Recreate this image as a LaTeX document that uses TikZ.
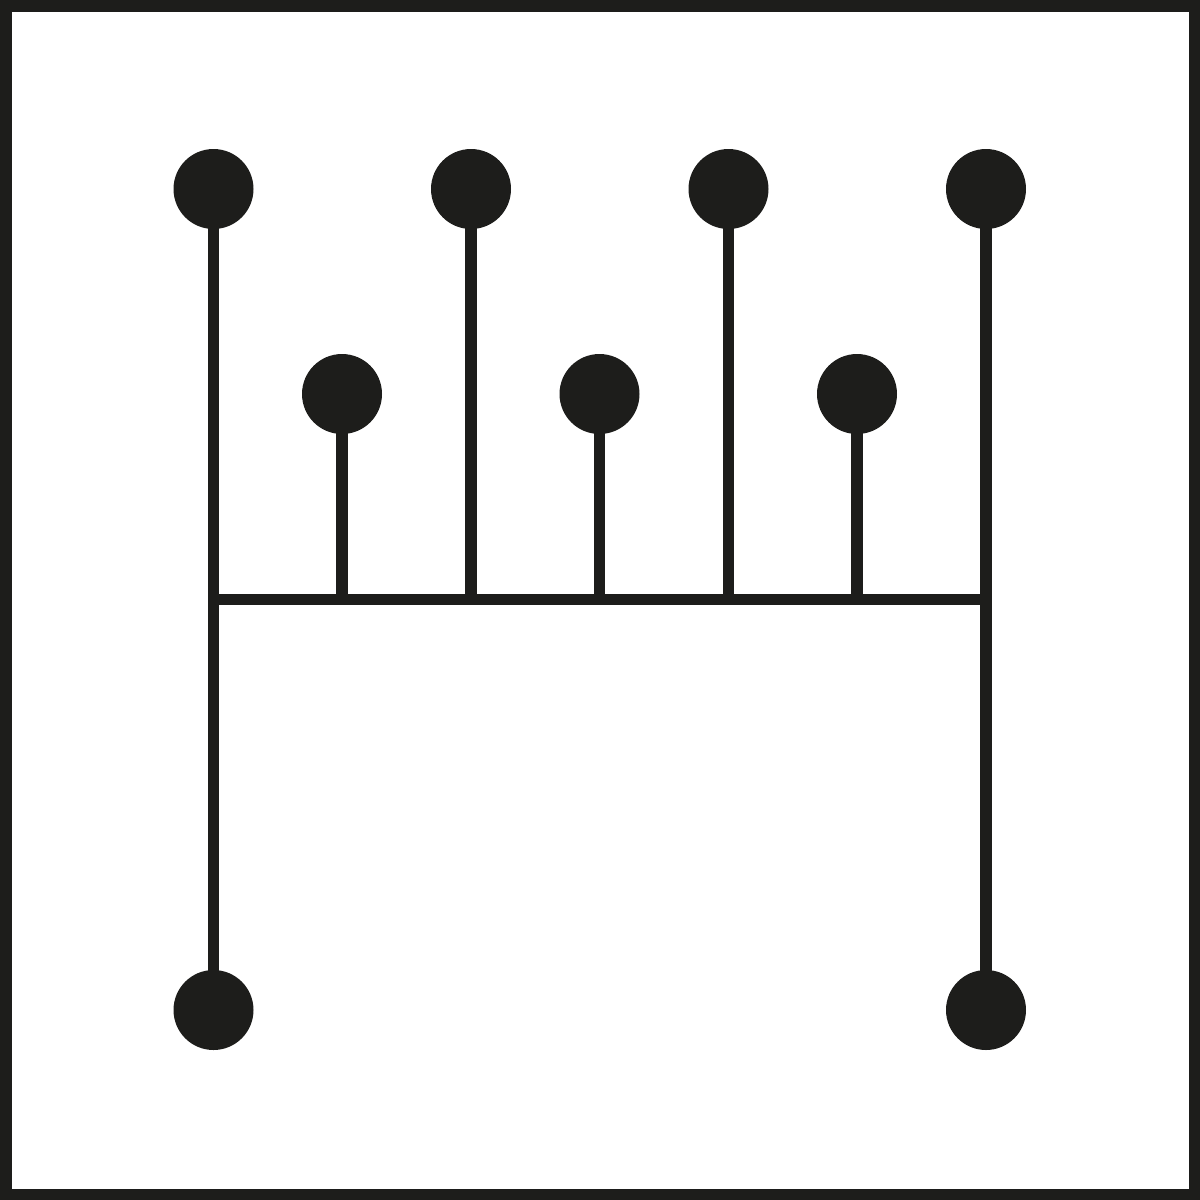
\documentclass[tikz,border=0pt]{standalone}
\definecolor{ink}{HTML}{1D1D1B}
\begin{document}
\begin{tikzpicture}[x=1pt,y=-1pt,
  knob/.style={circle,fill=ink,inner sep=0pt,minimum size=80pt},
  rod/.style={draw=ink,line width=11.5pt}]
\useasboundingbox (0,0) rectangle (1200,1200);
\draw[ink,line width=11.5pt] (5.75,5.75) rectangle (1194.25,1194.25);
% gear knobs
\node[knob] (g1) at (213.5,189) {};
\node[knob] (g3) at (471,189) {};
\node[knob] (g5) at (728.5,189) {};
\node[knob] (g7) at (986,189) {};
\node[knob] (g2) at (342,394) {};
\node[knob] (g4) at (599.5,394) {};
\node[knob] (g6) at (857,394) {};
\node[knob] (gR1) at (213.5,1010) {};
\node[knob] (gR2) at (986,1010) {};
% bar junctions
\coordinate (jL) at (213.5,599.5);
\coordinate (jR) at (986,599.5);
\coordinate (j2) at (342,599.5);
\coordinate (j3) at (471,599.5);
\coordinate (j4) at (599.5,599.5);
\coordinate (j5) at (728.5,599.5);
\coordinate (j6) at (857,599.5);
% rods
\draw[rod] (g1.center) -- (gR1.center);
\draw[rod] (g7.center) -- (gR2.center);
\draw[rod] (jL) -- (jR);
\draw[rod] (g2.center) -- (j2);
\draw[rod] (g3.center) -- (j3);
\draw[rod] (g4.center) -- (j4);
\draw[rod] (g5.center) -- (j5);
\draw[rod] (g6.center) -- (j6);
\end{tikzpicture}
\end{document}
